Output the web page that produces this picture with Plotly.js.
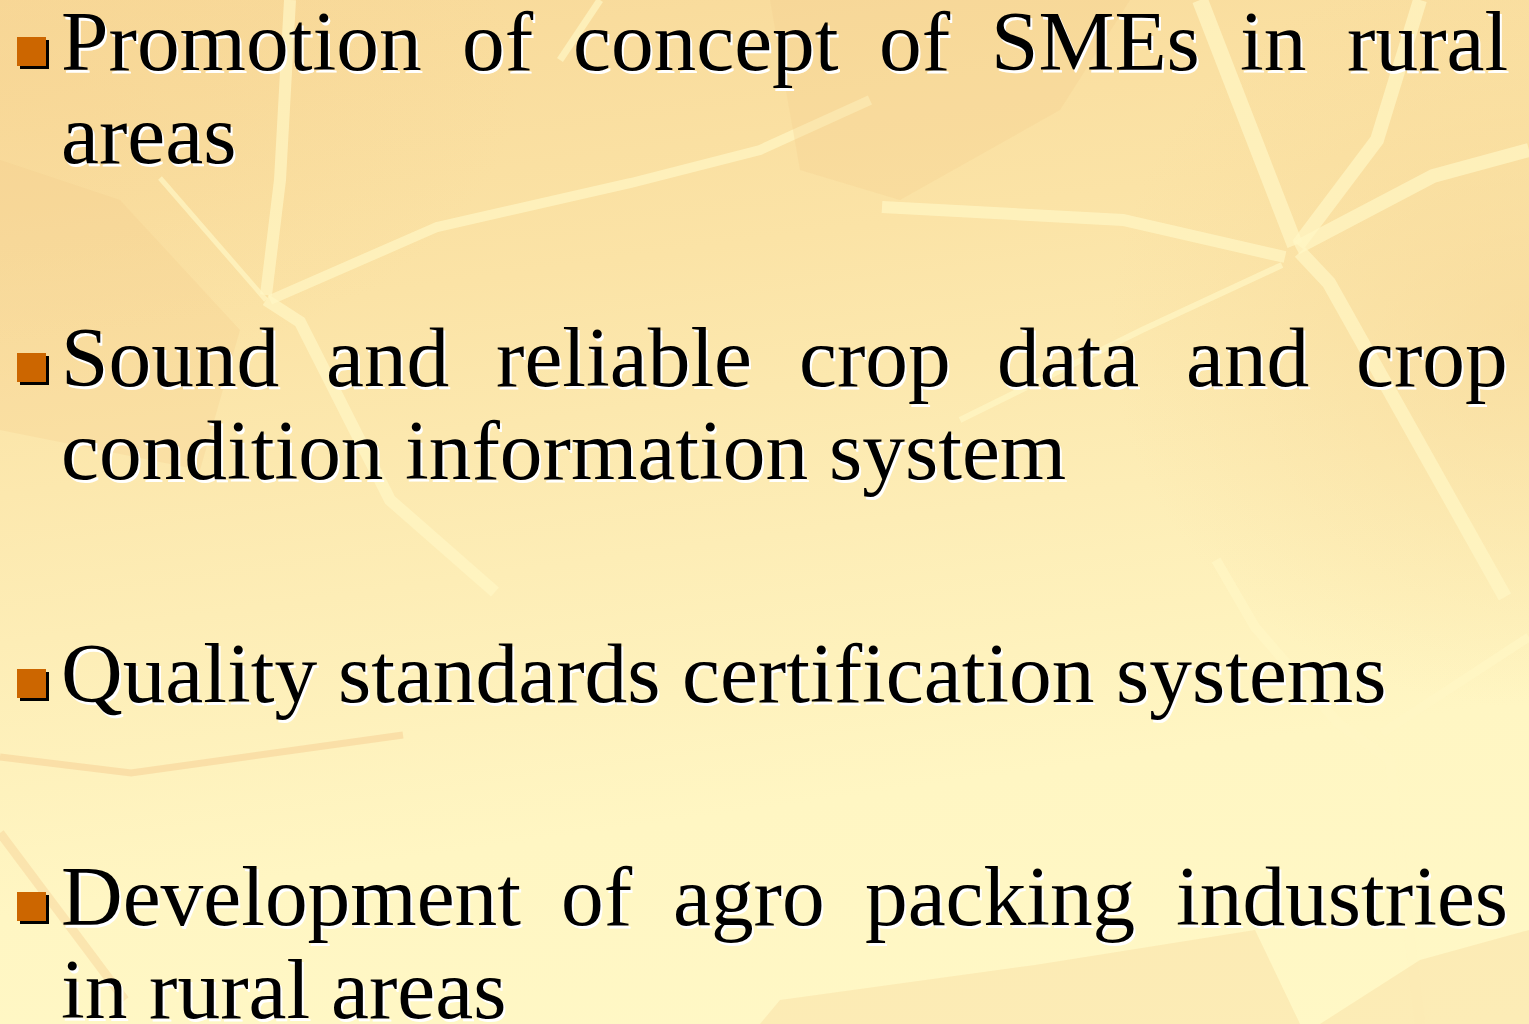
<!DOCTYPE html>
<html>
<head>
<meta charset="utf-8">
<script src="https://cdn.plot.ly/plotly-3.0.1.min.js"></script>
<style>
  html, body { margin: 0; padding: 0; overflow: hidden; }
  #slide {
    width: 1529px; height: 1024px;
    background:
      radial-gradient(ellipse 420px 380px at 100% 32%, rgba(246,212,146,0.55), rgba(246,212,146,0) 100%),
      radial-gradient(ellipse 520px 300px at 0% 8%, rgba(246,210,144,0.45), rgba(246,210,144,0) 100%),
      linear-gradient(172deg, #F8D999 0%, #FBE3A6 28%, #FDEDB6 52%, #FFF6C3 74%, #FFF8C6 100%);
  }
</style>
</head>
<body>
<div id="slide"></div>
<script>
// ---- content (text of the slide, as it is broken into lines) ----
const item1Lines = ["Promotion of concept of SMEs in rural", "areas"];
const item2Lines = ["Sound and reliable crop data and crop", "condition information system"];
const item3Lines = ["Quality standards certification systems"];
const item4Lines = ["Development of agro packing industries", "in rural areas"];
const items = [item1Lines, item2Lines, item3Lines, item4Lines];

// ---- styling / layout constants ----
const W = 1529, H = 1024;
const FONT_SIZE = 85.4;
const FONT_FAMILY = "Liberation Serif, 'Times New Roman', serif";
const TEXT_LEFT = 61, TEXT_RIGHT = 1508;
const FIRST_BASELINE = 70, LINE_STEP = 93, PARA_STEP = 223;
const BULLET_COLOR = "#CC6600";

const canvas = document.createElement("canvas");
const ctx = canvas.getContext("2d");
ctx.font = FONT_SIZE + "px 'Liberation Serif'";
const spaceW = ctx.measureText(" ").width;

const annotations = [];
const shapes = [];

// decorative background veins (light) and darker leaf patches
const paleVeins = [
  ["M1200,0 L1295,245", 16], ["M1420,0 L1377,140 L1298,245", 14],
  ["M1296,248 L1433,176 L1529,150", 14], ["M882,207 L1123,220 L1285,257", 12],
  ["M1300,252 L1329,283 L1505,597", 14], ["M1282,265 L1142,330 L960,420", 6],
  ["M290,0 L280,180 L266,295", 12], ["M160,178 L266,300", 5],
  ["M266,300 L300,322 L390,500 L495,592", 12], ["M270,300 L437,227 L631,183 L760,150 L870,100", 10],
  ["M1216,560 L1255,627 L1338,723 L1390,760 L1405,900 L1420,1024", 10], ["M1382,733 L1529,637", 9],
  ["M600,0 L560,60", 7]
];
paleVeins.forEach(v => shapes.push({type: "path", path: v[0], layer: "below",
  line: {color: "rgba(255,246,196,0.7)", width: v[1]}}));
const tanPatches = [
  "M760,1024 L780,1000 L1035,965 L1255,930 L1300,1024 Z",
  "M1320,1024 L1420,960 L1529,930 L1529,1024 Z",
  "M770,0 L1130,0 L1060,110 L900,200 L800,170 Z",
  "M0,160 L120,200 L240,330 L200,470 L0,430 Z"
];
tanPatches.forEach(p => shapes.push({type: "path", path: p, layer: "below",
  fillcolor: "rgba(244,206,140,0.28)", line: {width: 0}}));
shapes.push({type: "path", path: "M0,757 L131,773 L403,735", layer: "below",
  line: {color: "rgba(246,208,150,0.55)", width: 7}});
shapes.push({type: "path", path: "M0,833 L125,1000", layer: "below",
  line: {color: "rgba(246,208,150,0.45)", width: 9}});

// ---- bullet text layout ----
let baseline = FIRST_BASELINE;
items.forEach((lines, i) => {
  if (i > 0) baseline += PARA_STEP;
  // bullet square with black shadow
  shapes.push({type: "rect", x0: 20, x1: 49, y0: baseline - 30, y1: baseline - 1,
    fillcolor: "#000000", line: {width: 0}});
  shapes.push({type: "rect", x0: 17, x1: 46, y0: baseline - 33, y1: baseline - 4,
    fillcolor: BULLET_COLOR, line: {width: 0}});
  lines.forEach((line, li) => {
    if (li > 0) baseline += LINE_STEP;
    const words = line.split(" ");
    const widths = words.map(w => ctx.measureText(w).width);
    const isLast = li === lines.length - 1;
    let gap = spaceW;
    if (!isLast && words.length > 1) {
      const total = widths.reduce((a, b) => a + b, 0);
      gap = (TEXT_RIGHT - TEXT_LEFT - total) / (words.length - 1);
    }
    let x = TEXT_LEFT;
    words.forEach((w, wi) => {
      annotations.push({
        text: w, x: x, y: baseline - 0.3375 * FONT_SIZE,
        xref: "x", yref: "y", xanchor: "left", yanchor: "middle",
        showarrow: false, borderpad: 0, borderwidth: 0,
        font: {family: FONT_FAMILY, size: FONT_SIZE, color: "#000000",
               shadow: "2px 3px 0px #FFFFFF"}
      });
      x += widths[wi] + gap;
    });
  });
});

const layout = {
  width: W, height: H,
  margin: {l: 0, r: 0, t: 0, b: 0, pad: 0},
  paper_bgcolor: "rgba(0,0,0,0)", plot_bgcolor: "rgba(0,0,0,0)",
  xaxis: {range: [0, W], visible: false, fixedrange: true},
  yaxis: {range: [H, 0], visible: false, fixedrange: true},
  showlegend: false,
  annotations: annotations,
  shapes: shapes
};
Plotly.newPlot("slide", [], layout, {displayModeBar: false, staticPlot: true});
</script>
</body>
</html>
